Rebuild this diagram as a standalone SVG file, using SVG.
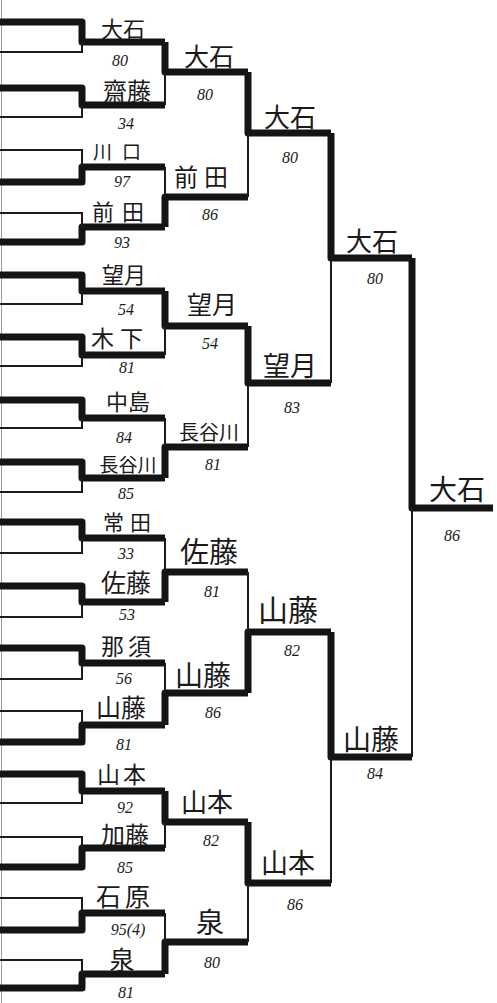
<svg xmlns="http://www.w3.org/2000/svg" width="497" height="1003" viewBox="0 0 497 1003">
<style>
.k{fill:none;stroke:#141414;stroke-width:7;stroke-linejoin:round;stroke-linecap:butt}
.t{fill:none;stroke:#1c1c1c;stroke-width:2}
.e{fill:none;stroke:#9a9a9a;stroke-width:1}
.n{font-family:"Noto Sans CJK JP","Noto Sans CJK SC",sans-serif;font-size:22px;fill:#1a1a1a;text-anchor:middle}
.s{font-family:"Liberation Serif",serif;font-style:italic;font-size:16px;fill:#1a1a1a;text-anchor:middle}
</style>
<rect width="497" height="1003" fill="#fff"/>
<g id="connectors">
<path class="e" d="M1.5,0V1003"/>
<path class="k" d="M0,22H82V42H165"/><path class="t" d="M0,52H82V42"/>
<path class="k" d="M0,88H82V105H165"/><path class="t" d="M0,117H82V105"/>
<path class="k" d="M0,182H82V167H165"/><path class="t" d="M0,150H82V167"/>
<path class="k" d="M0,242H82V227H165"/><path class="t" d="M0,213H82V227"/>
<path class="k" d="M0,275H82V291H165"/><path class="t" d="M0,304H82V291"/>
<path class="k" d="M0,337H82V355H165"/><path class="t" d="M0,366H82V355"/>
<path class="k" d="M0,400H82V418H165"/><path class="t" d="M0,428H82V418"/>
<path class="k" d="M0,462H82V478H165"/><path class="t" d="M0,492H82V478"/>
<path class="k" d="M0,522H82V538H165"/><path class="t" d="M0,553H82V538"/>
<path class="k" d="M0,586H82V602H165"/><path class="t" d="M0,617H82V602"/>
<path class="k" d="M0,648H82V663H165"/><path class="t" d="M0,679H82V663"/>
<path class="k" d="M0,742H82V725H165"/><path class="t" d="M0,711H82V725"/>
<path class="k" d="M0,774H82V791H165"/><path class="t" d="M0,803H82V791"/>
<path class="k" d="M0,867H82V848H165"/><path class="t" d="M0,837H82V848"/>
<path class="k" d="M0,930H82V913H165"/><path class="t" d="M0,898H82V913"/>
<path class="k" d="M0,988H82V974H165"/><path class="t" d="M0,960H82V974"/>
<path class="k" d="M165,42V72H248"/><path class="t" d="M165,105V72"/>
<path class="k" d="M165,227V197H248"/><path class="t" d="M165,167V197"/>
<path class="k" d="M165,291V326H248"/><path class="t" d="M165,355V326"/>
<path class="k" d="M165,478V447H248"/><path class="t" d="M165,418V447"/>
<path class="k" d="M165,602V572H248"/><path class="t" d="M165,538V572"/>
<path class="k" d="M165,725V693H248"/><path class="t" d="M165,663V693"/>
<path class="k" d="M165,791V822H248"/><path class="t" d="M165,848V822"/>
<path class="k" d="M165,974V942H248"/><path class="t" d="M165,913V942"/>
<path class="k" d="M248,72V133H331"/><path class="t" d="M248,197V133"/>
<path class="k" d="M248,326V383H331"/><path class="t" d="M248,447V383"/>
<path class="k" d="M248,693V632H331"/><path class="t" d="M248,572V632"/>
<path class="k" d="M248,822V883H331"/><path class="t" d="M248,942V883"/>
<path class="k" d="M331,133V258H412"/><path class="t" d="M331,383V258"/>
<path class="k" d="M331,632V757H412"/><path class="t" d="M331,883V757"/>
<path class="k" d="M412,258V508H493"/><path class="t" d="M412,757V508"/>
</g>
<g id="r2-oishi"><text class="n" x="123" y="37">大石</text><text class="s" x="120" y="66">80</text></g>
<g id="r2-saito"><text class="n" x="127" y="100" style="font-size:24px">齋藤</text><text class="s" x="126" y="129">34</text></g>
<g id="r2-kawaguchi"><text class="n" x="122" y="159" style="font-size:19px;letter-spacing:10px">川口</text><text class="s" x="122" y="187">97</text></g>
<g id="r2-maeda"><text class="n" x="122" y="220" style="letter-spacing:8px">前田</text><text class="s" x="122" y="248">93</text></g>
<g id="r2-mochizuki"><text class="n" x="124" y="283">望月</text><text class="s" x="126" y="315">54</text></g>
<g id="r2-kinoshita"><text class="n" x="120" y="347" style="font-size:23px;letter-spacing:6px">木下</text><text class="s" x="127" y="373">81</text></g>
<g id="r2-nakajima"><text class="n" x="128" y="410">中島</text><text class="s" x="124" y="443">84</text></g>
<g id="r2-hasegawa"><text class="n" x="128" y="472" style="font-size:19px">長谷川</text><text class="s" x="126" y="499">85</text></g>
<g id="r2-tsuneda"><text class="n" x="130" y="530" style="font-size:21px;letter-spacing:6px">常田</text><text class="s" x="126" y="559">33</text></g>
<g id="r2-sato"><text class="n" x="126" y="592" style="font-size:25px">佐藤</text><text class="s" x="127" y="620">53</text></g>
<g id="r2-nasu"><text class="n" x="128" y="655" style="font-size:23px;letter-spacing:4px">那須</text><text class="s" x="124" y="684">56</text></g>
<g id="r2-yamafuji"><text class="n" x="121" y="717" style="font-size:25px">山藤</text><text class="s" x="124" y="750">81</text></g>
<g id="r2-yamamoto"><text class="n" x="123" y="783" style="font-size:23px;letter-spacing:3px">山本</text><text class="s" x="125" y="813">92</text></g>
<g id="r2-kato"><text class="n" x="125" y="844" style="font-size:24px">加藤</text><text class="s" x="125" y="873">85</text></g>
<g id="r2-ishihara"><text class="n" x="125" y="906" style="font-size:25px;letter-spacing:4px">石原</text><text class="s" x="128" y="935">95(4)</text></g>
<g id="r2-izumi"><text class="n" x="122" y="969" style="font-size:25px">泉</text><text class="s" x="126" y="998">81</text></g>
<g id="r3-oishi"><text class="n" x="209" y="66" style="font-size:25px">大石</text><text class="s" x="205" y="100">80</text></g>
<g id="r3-maeda"><text class="n" x="204" y="186" style="font-size:24px;letter-spacing:6px">前田</text><text class="s" x="210" y="220">86</text></g>
<g id="r3-mochizuki"><text class="n" x="212" y="314" style="font-size:25px">望月</text><text class="s" x="210" y="349">54</text></g>
<g id="r3-hasegawa"><text class="n" x="209" y="440" style="font-size:20px">長谷川</text><text class="s" x="213" y="470">81</text></g>
<g id="r3-sato"><text class="n" x="209" y="563" style="font-size:29px">佐藤</text><text class="s" x="212" y="597">81</text></g>
<g id="r3-yamafuji"><text class="n" x="203" y="686" style="font-size:28px">山藤</text><text class="s" x="213" y="718">86</text></g>
<g id="r3-yamamoto"><text class="n" x="207" y="812" style="font-size:26px">山本</text><text class="s" x="211" y="846">82</text></g>
<g id="r3-izumi"><text class="n" x="210" y="933" style="font-size:28px">泉</text><text class="s" x="212" y="968">80</text></g>
<g id="r4-oishi"><text class="n" x="290" y="127" style="font-size:26px">大石</text><text class="s" x="290" y="163">80</text></g>
<g id="r4-mochizuki"><text class="n" x="290" y="376" style="font-size:27px">望月</text><text class="s" x="292" y="413">83</text></g>
<g id="r4-yamafuji"><text class="n" x="288" y="621" style="font-size:30px">山藤</text><text class="s" x="292" y="656">82</text></g>
<g id="r4-yamamoto"><text class="n" x="288" y="873" style="font-size:27px">山本</text><text class="s" x="295" y="910">86</text></g>
<g id="r5-oishi"><text class="n" x="372" y="251" style="font-size:26px">大石</text><text class="s" x="375" y="284">80</text></g>
<g id="r5-yamafuji"><text class="n" x="371" y="750" style="font-size:28px">山藤</text><text class="s" x="375" y="779">84</text></g>
<g id="final-oishi"><text class="n" x="457" y="500" style="font-size:28px">大石</text><text class="s" x="452" y="541">86</text></g>
</svg>
